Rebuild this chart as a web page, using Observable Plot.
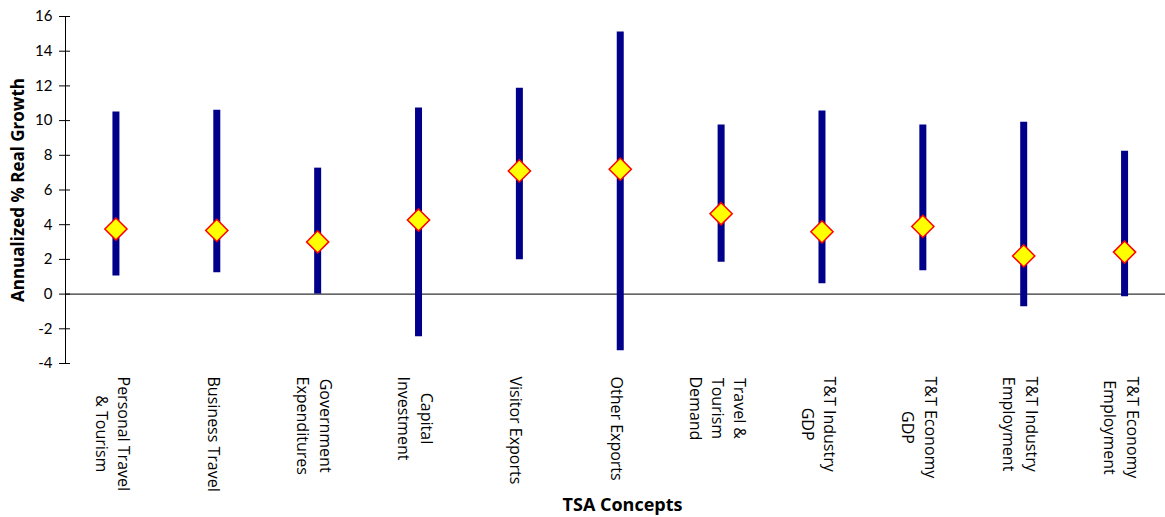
<!DOCTYPE html>
<html>
<head>
<meta charset="utf-8">
<script src="https://cdn.jsdelivr.net/npm/d3@7"></script>
<script src="https://cdn.jsdelivr.net/npm/@observablehq/plot@0.6"></script>
<style>
  html, body { margin: 0; padding: 0; background: #fff; }
  svg { display: block; }
</style>
</head>
<body>
<div id="chart"></div>
<script>
const categories = [
  "Personal Travel\n& Tourism",
  "Business Travel",
  "Government\nExpenditures",
  "Capital\nInvestment",
  "Visitor Exports",
  "Other Exports",
  "Travel &\nTourism\nDemand",
  "T&T Industry\nGDP",
  "T&T Economy\nGDP",
  "T&T Industry\nEmployment",
  "T&T Economy\nEmployment"
];
const lowValues  = [1.05, 1.23, 0.0, -2.46, 1.98, -3.27, 1.84, 0.6, 1.34, -0.73, -0.15];
const highValues = [10.49, 10.6, 7.26, 10.72, 11.87, 15.1, 9.74, 10.55, 9.74, 9.91, 8.24];
const midValues  = [3.75, 3.67, 3.01, 4.27, 7.1, 7.2, 4.63, 3.59, 3.9, 2.2, 2.42];
const yTicks = [-4, -2, 0, 2, 4, 6, 8, 10, 12, 14, 16];
const yTitle = "Annualized % Real Growth";
const xTitle = "TSA Concepts";

const rows = categories.map((c, i) => ({cat: c, low: lowValues[i], high: highValues[i], mid: midValues[i]}));

const labelFont = "'Gill Sans', 'Gill Sans MT', Lato, sans-serif";
const titleFont = "'Gill Sans', 'Gill Sans MT', 'Open Sans', sans-serif";
const catFont = "'Segoe UI', 'Open Sans', 'Noto Sans', sans-serif";

const chart = Plot.plot({
  width: 1165,
  height: 517,
  marginLeft: 65,
  marginRight: 0,
  marginTop: 16,
  marginBottom: 154,
  style: {background: "#fff", color: "#000"},
  x: {type: "point", domain: categories, range: [65, 1174.5], padding: 0.5, round: false},
  y: {domain: [-4, 16], range: [363, 16]},
  marks: [
    Plot.frame({anchor: "left", stroke: "#000", strokeWidth: 1}),
    Plot.ruleY([0], {stroke: "#000", strokeWidth: 1}),
    Plot.axisY({ticks: yTicks, tickSize: 11, dx: 5, tickPadding: 7, tickFormat: d => String(d),
      fontSize: 15, fontFamily: labelFont, label: null, stroke: "#000"}),
    Plot.axisX({tickSize: 0, tickPadding: 13, tickRotate: 90, fontSize: 16, fontFamily: catFont,
      lineHeight: 1.4, label: null, dx: -2}),
    Plot.ruleX(rows, {x: "cat", y1: "low", y2: "high", stroke: "#00008B", strokeWidth: 7}),
    Plot.dot(rows, {x: "cat", y: "mid", symbol: "diamond2", r: 10, fill: "#FFFF00", stroke: "#FF0000", strokeWidth: 1.5}),
    Plot.text([yTitle], {text: d => d, frameAnchor: "left", textAnchor: "middle", rotate: -90, dx: -47,
      fontWeight: "bold", fontSize: 17, fontFamily: titleFont}),
    Plot.text([xTitle], {text: d => d, frameAnchor: "bottom", textAnchor: "middle", dx: 7, dy: 147,
      fontWeight: "bold", fontSize: 18, fontFamily: titleFont})
  ]
});
document.getElementById("chart").append(chart);

// center the lines of each multi-line category label within its block
chart.querySelectorAll('g[aria-label="x-axis tick label"] text').forEach(t => {
  const spans = Array.from(t.querySelectorAll("tspan"));
  if (spans.length < 2) return;
  const lens = spans.map(s => s.getComputedTextLength());
  const max = Math.max(...lens);
  spans.forEach((s, i) => s.setAttribute("x", (max - lens[i]) / 2));
});
</script>
</body>
</html>
